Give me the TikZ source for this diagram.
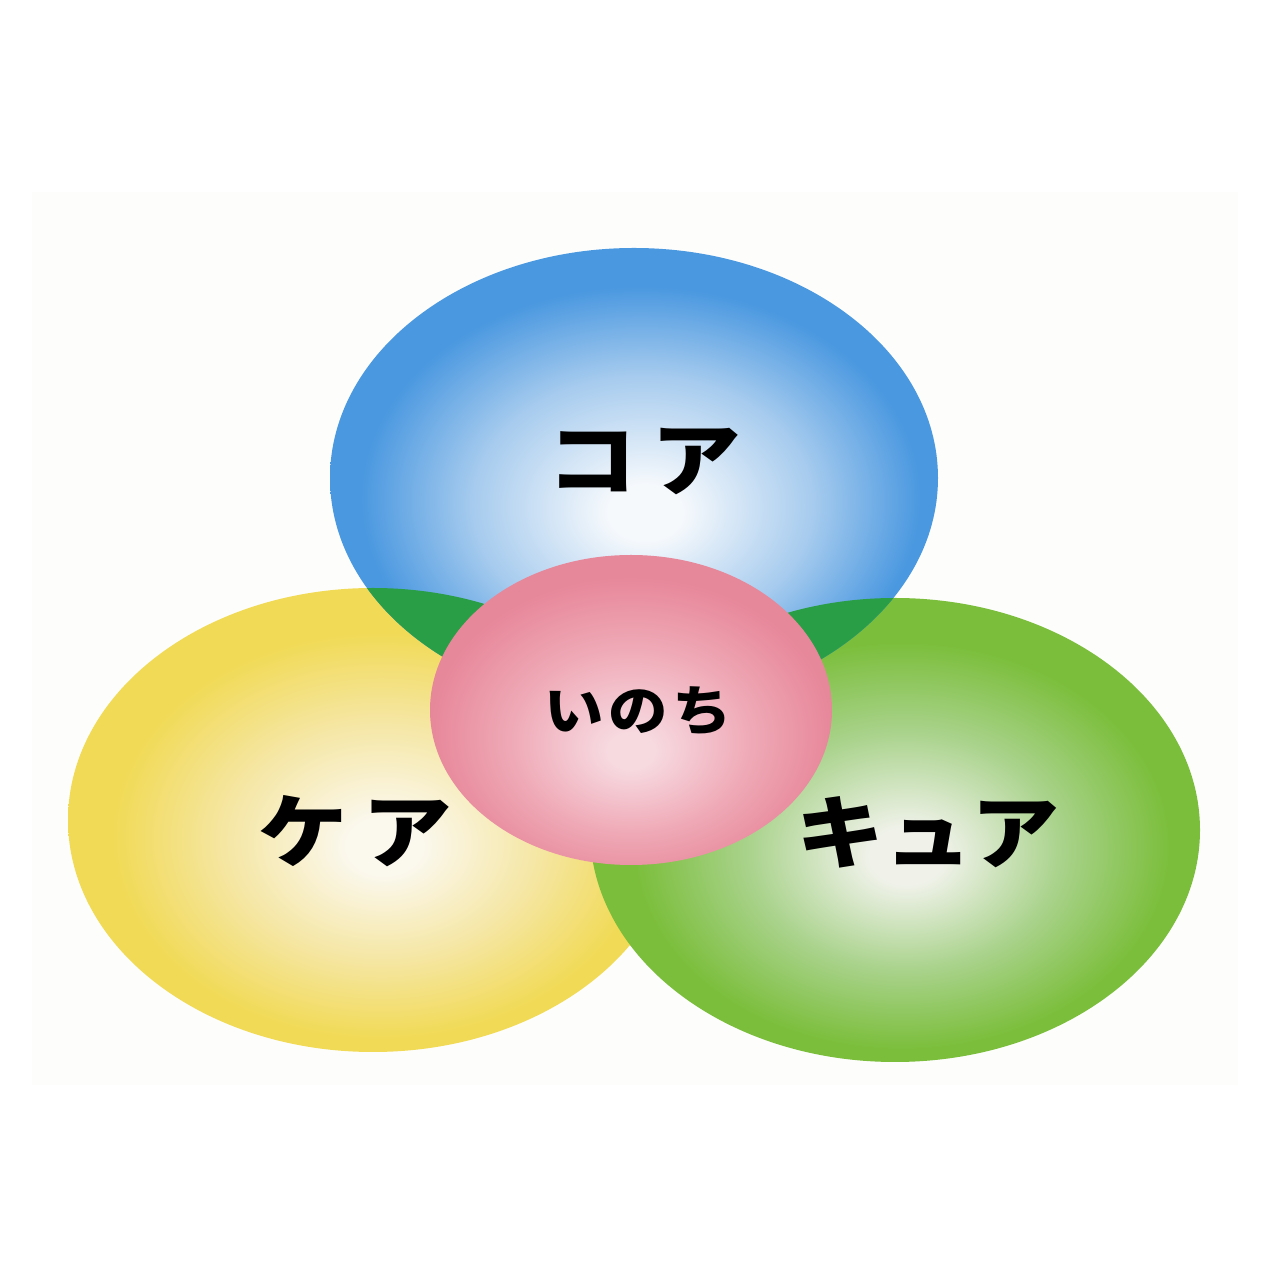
\documentclass[tikz,border=0pt]{standalone}
\usepackage{fontspec}
\newfontfamily\jp{Noto Sans CJK JP}
\definecolor{bgpanel}{HTML}{FDFDFC}
\definecolor{bluee}{HTML}{4A98E0}
\definecolor{bluem}{HTML}{A6CBEE}
\definecolor{bluec}{HTML}{F6F9FC}
\definecolor{yele}{HTML}{F1DA55}
\definecolor{yelm}{HTML}{F5E6A2}
\definecolor{yelc}{HTML}{FBF8EE}
\definecolor{grne}{HTML}{7BBE3B}
\definecolor{grnm}{HTML}{A8D28A}
\definecolor{grnc}{HTML}{F0F2EA}
\definecolor{pnke}{HTML}{E7879A}
\definecolor{pnkm}{HTML}{EFA9B6}
\definecolor{pnkc}{HTML}{F7D9E0}
\definecolor{darkg}{HTML}{2A9E46}
\pgfdeclareradialshading{blueball}{\pgfpoint{1bp}{-4bp}}{color(0bp)=(bluec); color(3bp)=(bluec); color(14bp)=(bluem); color(23bp)=(bluee); color(50bp)=(bluee)}
\pgfdeclareradialshading{yelball}{\pgfpoint{1bp}{-3bp}}{color(0bp)=(yelc); color(3bp)=(yelc); color(13bp)=(yelm); color(22bp)=(yele); color(50bp)=(yele)}
\pgfdeclareradialshading{grnball}{\pgfpoint{1bp}{-3bp}}{color(0bp)=(grnc); color(3bp)=(grnc); color(13bp)=(grnm); color(22bp)=(grne); color(50bp)=(grne)}
\pgfdeclareradialshading{pnkball}{\pgfpoint{0bp}{-7bp}}{color(0bp)=(pnkc); color(3bp)=(pnkc); color(15bp)=(pnkm); color(25bp)=(pnke); color(50bp)=(pnke)}
\tikzset{
  lbl/.style={inner sep=0pt, text=black, font=\jp\bfseries\fontsize{80}{90}\selectfont},
  lblsmall/.style={inner sep=0pt, text=black, font=\jp\bfseries\fontsize{54}{60}\selectfont},
  blueE/.style={x radius=304, y radius=230},
  yelE/.style={x radius=305, y radius=232},
  grnE/.style={x radius=305, y radius=232},
  pnkE/.style={x radius=201, y radius=155}
}
\begin{document}
\begin{tikzpicture}[x=1pt,y=1pt]
\useasboundingbox (0,0) rectangle (1280,1280);
\fill[white] (0,0) rectangle (1280,1280);
\fill[bgpanel] (32,195) rectangle (1238,1088);
\path[shading=yelball] (373,460) ellipse [yelE];
\path[shading=grnball] (895,450) ellipse [grnE];
\path[shading=blueball] (634,802) ellipse [blueE];
\begin{scope}
  \clip (634,802) ellipse [blueE];
  \fill[darkg] (373,460) ellipse [yelE];
  \fill[darkg] (895,450) ellipse [grnE];
\end{scope}
\path[shading=pnkball] (631,570) ellipse [pnkE];
\node[lbl] (core) at (644,818) {\scalebox{1.12}[1]{コ\hspace{13pt}ア}};
\node[lbl] (care) at (355,449) {\scalebox{1.12}[1]{ケ\hspace{13pt}ア}};
\node[lbl] (cure) at (928,448) {\scalebox{1.1}[1]{キュア}};
\node[lblsmall] (life) at (638,569) {\scalebox{1.1}[1]{い\hspace{4pt}の\hspace{4pt}ち}};
\end{tikzpicture}
\end{document}
